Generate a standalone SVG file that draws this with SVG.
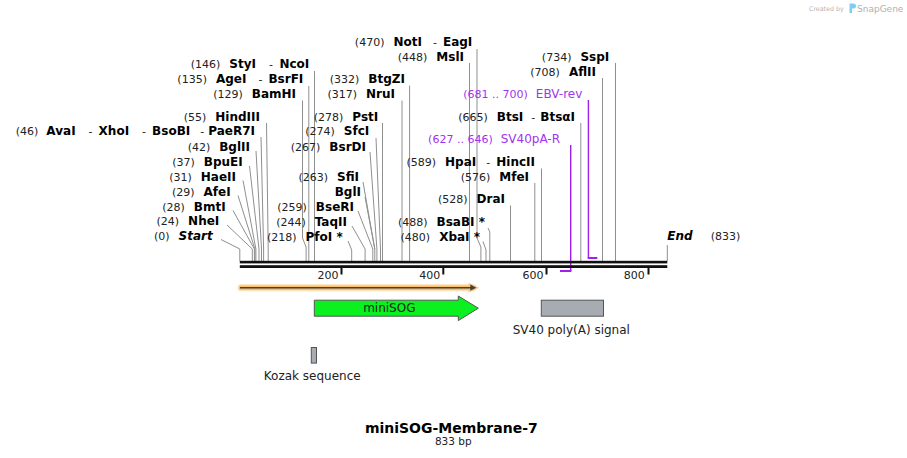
<svg xmlns="http://www.w3.org/2000/svg" width="907" height="458" viewBox="0 0 907 458">
<style>
text{font-family:"DejaVu Sans","Liberation Sans",sans-serif}
.l{text-anchor:end}
.n{font-size:11px;fill:#222}
.e{font-size:12px;font-weight:bold;fill:#000}
.s{font-size:11px;fill:#222}
.i{font-style:italic}
.p{font-size:11px;fill:#a133ee}
.pn{font-size:12px;fill:#a133ee}
.ld{fill:none;stroke:#8f8f8f;stroke-width:1}
.pr{fill:none;stroke:#a020f0;stroke-width:1.4}
.prb{fill:none;stroke:#a020f0;stroke-width:2}
.tk{font-size:11px;fill:#222;text-anchor:end}
.f{font-size:12px;fill:#222;text-anchor:middle}
</style>
<rect width="907" height="458" fill="#fff"/>

<g id="watermark">
<text x="809" y="11" style="font-size:6.3px;fill:#b5b5b5">Created by</text>
<path d="M849.5,3.5 h4 a2.5,2.5 0 0 1 0,5 h-1.5 v4.5 h-2.5 z" fill="#7fcdf3"/>
<text x="857" y="11.5" style="font-size:9px;fill:#b0b0b0">SnapGene</text>
</g>

<g id="connectors">
<path class="ld" d="M221,239.5 L239.8,249 V261"/>
<path class="ld" d="M227,225 L252.3,249 V261"/>
<path class="ld" d="M233,210.5 L254.4,249 V261"/>
<path class="ld" d="M238,195.5 L254.9,249 V261"/>
<path class="ld" d="M243,180.5 L255.9,249 V261"/>
<path class="ld" d="M249.5,166 L259,249 V261"/>
<path class="ld" d="M256,151 L261.5,249 V261"/>
<path class="ld" d="M261,137 L263.6,249 V261"/>
<path class="ld" d="M266.5,123 L268.2,249 V261"/>
<path class="ld" d="M302.5,100.5 V238 L306.1,247 V261"/>
<path class="ld" d="M308.8,86 V261"/>
<path class="ld" d="M314.5,71 V261"/>
<path class="ld" d="M382.5,123 V261"/>
<path class="ld" d="M376,138 L380.5,249 V261"/>
<path class="ld" d="M370,152 L376.9,249 V261"/>
<path class="ld" d="M363,182 L374.8,249 V261"/>
<path class="ld" d="M365,197 L374.8,249"/>
<path class="ld" d="M358,211 L372.8,249 V261"/>
<path class="ld" d="M352,226 L365.1,249 V261"/>
<path class="ld" d="M348,241 L351.7,250 V261"/>
<path class="ld" d="M409.6,85.5 V261"/>
<path class="ld" d="M402,100.5 V261"/>
<path class="ld" d="M477,49 V238 L480.9,247 V261"/>
<path class="ld" d="M469.5,63 V261"/>
<path class="ld" d="M483,241.5 L486,250 V261"/>
<path class="ld" d="M488,228 L489.8,232 V261"/>
<path class="ld" d="M510.5,205.5 V261"/>
<path class="ld" d="M534.8,183 V261"/>
<path class="ld" d="M541.5,168.5 V261"/>
<path class="ld" d="M580.8,123 V261"/>
<path class="ld" d="M602.5,78 V261"/>
<path class="ld" d="M615.5,63 V261"/>
<path class="ld" d="M667.3,245 V261"/>
</g>

<g id="primer-ebv-rev">
<path class="pr" d="M588.4,100 V258"/>
<path class="prb" d="M587.7,258 H597.3"/>
<text class="l" x="582.3" y="98"><tspan class="p">(681 .. 700)</tspan><tspan class="pn" dx="8">EBV-rev</tspan></text>
</g>
<g id="primer-sv40pa-r">
<path class="pr" d="M570.7,145 V271"/>
<path class="prb" d="M560,271 H571.4"/>
<text class="l" x="560" y="143"><tspan class="p">(627 .. 646)</tspan><tspan class="pn" dx="8">SV40pA-R</tspan></text>
</g>

<g id="backbone">
<rect x="239.8" y="260.8" width="427.5" height="2.6" fill="#111"/>
<rect x="239.8" y="265.2" width="427.5" height="2.8" fill="#111"/>
<rect x="340.5" y="268" width="2" height="6.5" fill="#111"/>
<rect x="442.3" y="268" width="2" height="6.5" fill="#111"/>
<rect x="545.5" y="268" width="2" height="6.5" fill="#111"/>
<rect x="647.5" y="268" width="2" height="6.5" fill="#111"/>
<text class="tk" x="338.5" y="278.5">200</text>
<text class="tk" x="440.3" y="278.5">400</text>
<text class="tk" x="543.5" y="278.5">600</text>
<text class="tk" x="644.8" y="278.5">800</text>
</g>

<g id="site-start"><text class="l" x="212.7" y="240"><tspan class="n">(0)</tspan><tspan class="e i" dx="9">Start</tspan></text></g>
<g id="site-nhei"><text class="l" x="219.3" y="225"><tspan class="n">(24)</tspan><tspan class="e" dx="9">NheI</tspan></text></g>
<g id="site-bmti"><text class="l" x="225.7" y="210.5"><tspan class="n">(28)</tspan><tspan class="e" dx="9">BmtI</tspan></text></g>
<g id="site-afei"><text class="l" x="230.7" y="195.5"><tspan class="n">(29)</tspan><tspan class="e" dx="9">AfeI</tspan></text></g>
<g id="site-haeii"><text class="l" x="236" y="180.5"><tspan class="n">(31)</tspan><tspan class="e" dx="9">HaeII</tspan></text></g>
<g id="site-bpuei"><text class="l" x="242.7" y="166"><tspan class="n">(37)</tspan><tspan class="e" dx="9">BpuEI</tspan></text></g>
<g id="site-bglii"><text class="l" x="250" y="150.5"><tspan class="n">(42)</tspan><tspan class="e" dx="9">BglII</tspan></text></g>
<g id="site-avai"><text class="l" x="255" y="135"><tspan class="n">(46)</tspan><tspan class="e" dx="8">AvaI</tspan><tspan class="s" dx="13">-</tspan><tspan class="e" dx="6">XhoI</tspan><tspan class="s" dx="13">-</tspan><tspan class="e" dx="6">BsoBI</tspan><tspan class="s" dx="10">-</tspan><tspan class="e" dx="4">PaeR7I</tspan></text></g>
<g id="site-hindiii"><text class="l" x="260" y="120.5"><tspan class="n">(55)</tspan><tspan class="e" dx="9">HindIII</tspan></text></g>
<g id="site-bamhi"><text class="l" x="296" y="98"><tspan class="n">(129)</tspan><tspan class="e" dx="9">BamHI</tspan></text></g>
<g id="site-agei"><text class="l" x="303.3" y="83"><tspan class="n">(135)</tspan><tspan class="e" dx="9">AgeI</tspan><tspan class="s" dx="12">-</tspan><tspan class="e" dx="6">BsrFI</tspan></text></g>
<g id="site-styi"><text class="l" x="309.3" y="68"><tspan class="n">(146)</tspan><tspan class="e" dx="9">StyI</tspan><tspan class="s" dx="13">-</tspan><tspan class="e" dx="6.5">NcoI</tspan></text></g>
<g id="site-psti"><text class="l" x="378.3" y="120.5"><tspan class="n">(278)</tspan><tspan class="e" dx="9">PstI</tspan></text></g>
<g id="site-sfci"><text class="l" x="369.3" y="135"><tspan class="n">(274)</tspan><tspan class="e" dx="9">SfcI</tspan></text></g>
<g id="site-bsrdi"><text class="l" x="366" y="150.5"><tspan class="n">(267)</tspan><tspan class="e" dx="9">BsrDI</tspan></text></g>
<g id="site-sfii"><text class="l" x="359" y="181"><tspan class="n">(263)</tspan><tspan class="e" dx="9">SfiI</tspan></text></g>
<g id="site-bgli"><text class="l e" x="361" y="196">BglI</text></g>
<g id="site-bseri"><text class="l" x="354" y="210.5"><tspan class="n">(259)</tspan><tspan class="e" dx="9">BseRI</tspan></text></g>
<g id="site-taqii"><text class="l" x="347" y="225.5"><tspan class="n">(244)</tspan><tspan class="e" dx="9">TaqII</tspan></text></g>
<g id="site-pfoi"><text class="l" x="342.7" y="240.5"><tspan class="n">(218)</tspan><tspan class="e" dx="9">PfoI *</tspan></text></g>
<g id="site-btgzi"><text class="l" x="405" y="83"><tspan class="n">(332)</tspan><tspan class="e" dx="9">BtgZI</tspan></text></g>
<g id="site-nrui"><text class="l" x="395" y="98"><tspan class="n">(317)</tspan><tspan class="e" dx="9">NruI</tspan></text></g>
<g id="site-noti"><text class="l" x="472.3" y="46"><tspan class="n">(470)</tspan><tspan class="e" dx="9">NotI</tspan><tspan class="s" dx="11">-</tspan><tspan class="e" dx="6">EagI</tspan></text></g>
<g id="site-msli"><text class="l" x="464" y="60.5"><tspan class="n">(448)</tspan><tspan class="e" dx="9">MslI</tspan></text></g>
<g id="site-xbai"><text class="l" x="480" y="240.5"><tspan class="n">(480)</tspan><tspan class="e" dx="9">XbaI *</tspan></text></g>
<g id="site-bsabi"><text class="l" x="485" y="225.5"><tspan class="n">(488)</tspan><tspan class="e" dx="9">BsaBI *</tspan></text></g>
<g id="site-drai"><text class="l" x="505" y="203"><tspan class="n">(528)</tspan><tspan class="e" dx="9">DraI</tspan></text></g>
<g id="site-mfei"><text class="l" x="529" y="181"><tspan class="n">(576)</tspan><tspan class="e" dx="9">MfeI</tspan></text></g>
<g id="site-hpai"><text class="l" x="535" y="166"><tspan class="n">(589)</tspan><tspan class="e" dx="9">HpaI</tspan><tspan class="s" dx="10">-</tspan><tspan class="e" dx="6">HincII</tspan></text></g>
<g id="site-btsi"><text class="l" x="575" y="120.5"><tspan class="n">(665)</tspan><tspan class="e" dx="9">BtsI</tspan><tspan class="s" dx="8">-</tspan><tspan class="e" dx="5">BtsαI</tspan></text></g>
<g id="site-aflii"><text class="l" x="596" y="75.5"><tspan class="n">(708)</tspan><tspan class="e" dx="9">AflII</tspan></text></g>
<g id="site-sspi"><text class="l" x="609.3" y="60.5"><tspan class="n">(734)</tspan><tspan class="e" dx="9">SspI</tspan></text></g>
<g id="site-end"><text x="667.3" y="240"><tspan class="e i">End</tspan><tspan class="n" x="710.7">(833)</tspan></text></g>

<g id="feature-orange">
<path d="M241,287.7 H473" stroke="#fde0b3" stroke-width="7" fill="none" stroke-linecap="round"/>
<path d="M241,287.7 H473" stroke="#f7bf6e" stroke-width="4.5" fill="none" stroke-linecap="round"/>
<path d="M468.5,282.8 L479.2,287.7 L468.5,292.6 Z" fill="#f9c97f"/>
<path d="M240,287.7 H472" stroke="#404040" stroke-width="1.6" fill="none"/>
<path d="M470.3,284.6 L476.3,287.7 L470.3,290.8 Z" fill="#404040"/>
</g>

<g id="feature-minisog">
<path d="M314.3,300.2 H458.3 V296 L478.3,308.2 L458.3,320.6 V316.2 H314.3 Z" fill="#0bf01f" stroke="#555" stroke-width="1"/>
<text class="f" x="389.3" y="312">miniSOG</text>
</g>

<g id="feature-sv40polya">
<rect x="541.3" y="300.2" width="62.2" height="16" fill="#a7abb2" stroke="#555" stroke-width="1"/>
<text class="f" x="571.3" y="333.5">SV40 poly(A) signal</text>
</g>

<g id="feature-kozak">
<rect x="311.3" y="347.5" width="5.2" height="15.6" fill="#a7abb2" stroke="#555" stroke-width="1"/>
<text class="f" x="312.2" y="380">Kozak sequence</text>
</g>

<g id="title">
<text x="451.3" y="433" style="font-size:14px;font-weight:bold;fill:#000;text-anchor:middle">miniSOG-Membrane-7</text>
<text x="453.3" y="444.5" style="font-size:10.5px;fill:#222;text-anchor:middle">833 bp</text>
</g>
</svg>
